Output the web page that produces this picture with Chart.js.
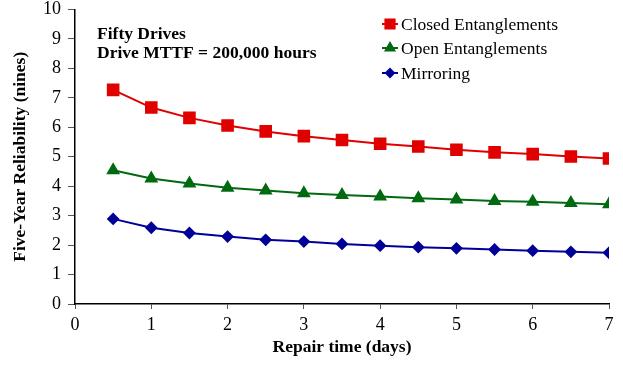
<!DOCTYPE html>
<html>
<head>
<meta charset="utf-8">
<script src="https://cdn.jsdelivr.net/npm/chart.js@4/dist/chart.umd.min.js"></script>
<style>
    html, body { margin: 0; padding: 0; background: #fff; }
</style>
</head>
<body>
<canvas id="reliabilityChart" width="623" height="367"></canvas>
<script>
const repairDays = [0.5, 1, 1.5, 2, 2.5, 3, 3.5, 4, 4.5, 5, 5.5, 6, 6.5, 7];
const closedEntanglements = [7.27, 6.67, 6.32, 6.06, 5.86, 5.70, 5.57, 5.44, 5.35, 5.24, 5.15, 5.09, 5.01, 4.94];
const openEntanglements = [4.54, 4.26, 4.09, 3.95, 3.85, 3.76, 3.70, 3.65, 3.59, 3.55, 3.50, 3.47, 3.43, 3.39];
const mirroring = [2.89, 2.59, 2.41, 2.29, 2.18, 2.12, 2.04, 1.98, 1.93, 1.89, 1.85, 1.81, 1.77, 1.74];
const seriesNames = ['Closed Entanglements', 'Open Entanglements', 'Mirroring'];
const noteLines = ['Fifty Drives', 'Drive MTTF = 200,000 hours'];

const serif = '"Liberation Serif", "Times New Roman", serif';

function toPoints(values) {
    return repairDays.map((d, i) => ({ x: d, y: values[i] }));
}

function series(label, values, color, style, radius) {
    return {
        label: label,
        data: toPoints(values),
        borderColor: color,
        backgroundColor: color,
        pointBackgroundColor: color,
        pointBorderColor: color,
        pointStyle: style,
        pointRadius: radius,
        pointHoverRadius: radius,
        borderWidth: 2,
        tension: 0
    };
}

// legend drawn inside the plot, top right
const insideLegend = {
    id: 'insideLegend',
    afterDraw(chart) {
        const ctx = chart.ctx;
        const rows = [24, 48, 73];
        ctx.save();
        chart.data.datasets.forEach((ds, i) => {
            const y = rows[i];
            ctx.strokeStyle = ds.borderColor;
            ctx.lineWidth = 2;
            ctx.beginPath();
            ctx.moveTo(382, y);
            ctx.lineTo(398, y);
            ctx.stroke();
            ctx.fillStyle = ds.backgroundColor;
            Chart.helpers.drawPoint(ctx, { pointStyle: ds.pointStyle, radius: ds.pointRadius - 1, rotation: 0, borderWidth: 1 }, 390, y);
            ctx.fill();
            ctx.fillStyle = '#000';
            ctx.font = '17.5px ' + serif;
            ctx.textBaseline = 'middle';
            ctx.textAlign = 'left';
            ctx.fillText(ds.label, 401, y + 1);
        });
        ctx.restore();
    }
};

// the text note in the upper left
const noteText = {
    id: 'noteText',
    afterDraw(chart) {
        const ctx = chart.ctx;
        ctx.save();
        ctx.fillStyle = '#000';
        ctx.font = 'bold 17.5px ' + serif;
        ctx.textBaseline = 'alphabetic';
        ctx.fillText(noteLines[0], 97, 39);
        ctx.fillText(noteLines[1], 97, 58);
        ctx.restore();
    }
};

const ctx = document.getElementById('reliabilityChart').getContext('2d');
const reliabilityChart = new Chart(ctx, {
    type: 'line',
    data: {
        datasets: [
            series(seriesNames[0], closedEntanglements, '#e00000', 'rect', 7.5),
            series(seriesNames[1], openEntanglements, '#006a10', 'triangle', 6),
            series(seriesNames[2], mirroring, '#000099', 'rectRot', 5)
        ]
    },
    options: {
        responsive: false,
        animation: false,
        devicePixelRatio: 1,
        layout: { padding: { top: 7, right: 14, left: 0, bottom: 0 } },
        plugins: {
            legend: { display: false },
            tooltip: { enabled: false }
        },
        scales: {
            x: {
                type: 'linear',
                min: 0,
                max: 7,
                afterFit(scale) { scale.height = 63; },
                ticks: { stepSize: 1, color: '#000', padding: 5, font: { family: serif, size: 18 } },
                grid: { drawOnChartArea: false, drawTicks: true, tickLength: 5, color: '#000', tickColor: '#555' },
                border: { color: '#000', width: 1.5 },
                title: { display: true, text: 'Repair time (days)', color: '#000', padding: { top: 9, bottom: 9 }, font: { family: serif, size: 17.5, weight: 'bold' } }
            },
            y: {
                min: 0,
                max: 10,
                afterFit(scale) {
                    scale.width = 75;
                    scale.paddingTop = 0;
                    scale.paddingBottom = 0;
                },
                ticks: { stepSize: 1, color: '#000', padding: 7, font: { family: serif, size: 18 } },
                grid: { drawOnChartArea: false, drawTicks: true, tickLength: 7, color: '#000', tickColor: '#555' },
                border: { color: '#000', width: 1.5 },
                title: { display: true, text: 'Five-Year Reliability (nines)', color: '#000', padding: { top: 10, bottom: 9 }, font: { family: serif, size: 17.5, weight: 'bold' } }
            }
        }
    },
    plugins: [insideLegend, noteText]
});
</script>
</body>
</html>
